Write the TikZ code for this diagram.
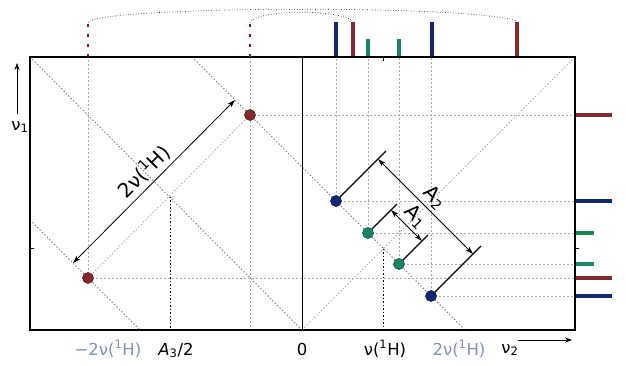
\documentclass[tikz,border=0pt]{standalone}
\usepackage{fontspec}
\setmainfont{DejaVu Sans}
\usetikzlibrary{arrows.meta,positioning}
\definecolor{specred}{RGB}{135,40,45}
\definecolor{specblue}{RGB}{15,40,115}
\definecolor{specgreen}{RGB}{25,135,90}
\definecolor{axisblue}{RGB}{125,145,200}
\definecolor{diaggray}{RGB}{115,122,148}
\definecolor{gridgray}{RGB}{170,170,170}
\tikzset{
  peak/.style={circle, inner sep=0pt, minimum size=11pt, fill=#1, draw=#1!60!black, line width=0.6pt},
  stick/.style={line width=3.5pt, #1},
  gridline/.style={gridgray, dash pattern=on 2pt off 2pt, line width=0.5pt},
  diag/.style={diaggray, dash pattern=on 1.4pt off 2pt, line width=0.9pt},
  diaglight/.style={gridgray, dash pattern=on 1.4pt off 2pt, line width=0.9pt},
  redstub/.style={specred!80!black, dash pattern=on 3pt off 7pt, line width=2.5pt},
  dimarrow/.style={{Stealth[length=8pt,width=5pt]}-{Stealth[length=8pt,width=5pt]}, line width=0.8pt},
  bigtext/.style={font=\fontsize{20}{24}\selectfont},
}
\begin{document}
\begin{tikzpicture}[x=1pt,y=-1pt,font=\fontsize{16.5}{20}\selectfont]
  \useasboundingbox (0,0) rectangle (626,365);
  %\node at (300,0) {2D spectrum};
  \coordinate (tl) at (30,57);
  \coordinate (tr) at (575,57);
  \coordinate (bl) at (30,330);
  \coordinate (br) at (575,330);
  \coordinate (zero) at (302,330);
  \coordinate (redup) at (250,115);
  \coordinate (redlo) at (88,278);
  \coordinate (blueup) at (336,201);
  \coordinate (greenup) at (368,233);
  \coordinate (greenlo) at (399,264);
  \coordinate (bluelo) at (431,296);
  \coordinate (halfA) at (170,196.5);
  \coordinate (nuH) at (383.5,248.5);
  % diagonals
  \draw[diag] (tl) -- (zero);
  \draw[diag] (192,57) -- (465,330);
  \draw[diag] (30,220) -- (140,330);
  \draw[diaglight] (zero) -- (tr);
  \draw[diaglight] (redlo) -- (redup);
  % grid from the peaks
  \foreach \p in {redup,redlo,blueup,greenup,greenlo,bluelo} {
       \draw[gridline] (\p) -- (\p -| br);
  }
  \foreach \p in {redlo,blueup,greenup,greenlo,bluelo} {
       \draw[gridline] (\p) -- (\p |- tl);
  }
  \draw[gridline] (redup |- tl) -- (redup |- bl);
  \draw[line width=0.9pt, dash pattern=on 1.5pt off 2pt] (halfA) -- (halfA |- bl);
  \draw[line width=0.9pt, dash pattern=on 1.5pt off 2pt] (nuH) -- (nuH |- bl);
  \draw[line width=0.7pt] (zero) -- (zero |- tl);
  % frame and ticks
  \draw[line width=2pt] (tl) rectangle (br);
  \draw[line width=0.8pt] (nuH |- tl) -- ++(0,4);
  \draw[line width=0.8pt] (tl |- nuH) -- ++(4,0);
  \draw[line width=0.8pt] (tr |- nuH) -- ++(4,0);
  % projections
  \foreach \x/\c/\h in {336/specblue/22, 353/specred/22, 368/specgreen/39,
                        399/specgreen/39, 432/specblue/22, 517/specred/22} {
       \draw[stick=\c] (\x,56) -- (\x,\h);
  }
  \foreach \y/\c/\l in {115/specred/612, 201/specblue/612, 233/specgreen/594,
                        264/specgreen/594, 278/specred/612, 296/specblue/612} {
       \draw[stick=\c] (576,\y) -- (\l,\y);
  }
  \draw[redstub] (redlo |- tl) -- ++(0,-34);
  \draw[redstub] (redup |- tl) -- ++(0,-34);
  \draw[dotted, line width=0.6pt] (88,23) .. controls (90,6) and (470,4) .. (517,21);
  \draw[dotted, line width=0.6pt] (250,23) .. controls (254,10) and (335,8) .. (353,21);
  % peaks
  \node[peak=specred] (rA) at (redup) {};
  \node[peak=specred] (rB) at (redlo) {};
  \node[peak=specblue] (bA) at (blueup) {};
  \node[peak=specgreen] (gA) at (greenup) {};
  \node[peak=specgreen] (gB) at (greenlo) {};
  \node[peak=specblue] (bB) at (bluelo) {};
  % distances
  \draw[dimarrow] ([shift={(-15,-15)}]redlo) -- ([shift={(-15,-15)}]redup)
       node[midway, sloped, above, bigtext] {2ν(\textsuperscript{1}H)};
  \draw[line width=1.2pt] (bA) -- ++(50,-50);
  \draw[line width=1.2pt] (bB) -- ++(50,-50);
  \draw[line width=1.2pt] (gA) -- ++(29,-29);
  \draw[line width=1.2pt] (gB) -- ++(29,-29);
  \draw[dimarrow] ([shift={(42,-42)}]blueup) -- ([shift={(42,-42)}]bluelo)
       node[midway, sloped, above, bigtext] {A\textsubscript{2}};
  \draw[dimarrow] ([shift={(23,-23)}]greenup) -- ([shift={(23,-23)}]greenlo)
       node[midway, sloped, above, bigtext] {A\textsubscript{1}};
  % axes
  \node (nu1) at (20,127) {ν\textsubscript{1}};
  \draw[-{Stealth[length=7pt,width=5pt]}, line width=0.7pt] (17,114) -- (17,63);
  \node[anchor=base] (nu2) at (510,353) {ν\textsubscript{2}};
  \draw[-{Stealth[length=7pt,width=5pt]}, line width=0.7pt] (518,340) -- (572,340);
  \foreach \x/\t/\c in {108/{−2ν(\textsuperscript{1}H)}/axisblue, 176/{\textit{A}\textsubscript{3}/2}/black,
                        302/0/black, 385/{ν(\textsuperscript{1}H)}/black, 459/{2ν(\textsuperscript{1}H)}/axisblue} {
       \node[anchor=base, text=\c] at (\x,355) {\t};
  }
\end{tikzpicture}
\end{document}
